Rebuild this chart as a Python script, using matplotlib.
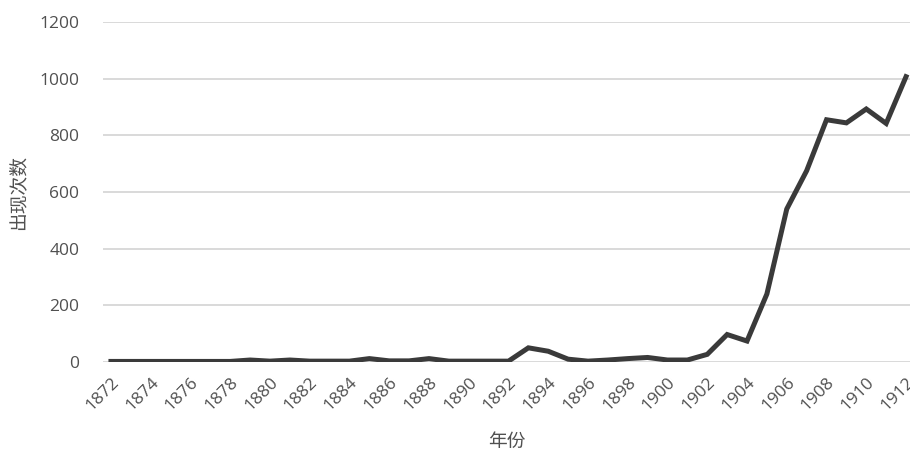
import matplotlib
matplotlib.use("Agg")
import matplotlib.pyplot as plt

plt.rcParams['font.family'] = ['Noto Sans CJK SC', 'DejaVu Sans']

years = list(range(1872, 1913))
counts = [2, 2, 2, 2, 2, 2, 2, 7, 3, 7, 3, 3, 3, 12, 4, 4, 12, 3, 3, 3,
          3, 50, 38, 10, 3, 7, 12, 16, 7, 7, 27, 97, 74, 240, 540, 675, 855, 844,
          893, 842, 1007]
xticks = list(range(1872, 1913, 2))
yticks = [0, 200, 400, 600, 800, 1000, 1200]

fig = plt.figure(figsize=(9.1, 4.55), dpi=100)
ax = fig.add_axes([103 / 910, 1 - 362 / 455, 807 / 910, 340 / 455])

ax.plot(years, counts, color='#3a3a3a', lw=3.6, solid_joinstyle='miter', zorder=3)

ax.set_xlim(1871.6, 1912.2)
ax.set_ylim(0, 1200)
ax.set_yticks(yticks)
ax.set_xticks(xticks)
ax.set_yticklabels([str(y) for y in yticks], family=['Open Sans', 'DejaVu Sans'])
ax.set_xticklabels([str(x) for x in xticks], rotation=45, ha='right', va='top',
                   rotation_mode='anchor', family=['Open Sans', 'DejaVu Sans'])
ax.grid(axis='y', color='#d9d9d9', lw=1.4)
ax.set_axisbelow(True)
for s in ax.spines.values():
    s.set_visible(False)
ax.tick_params(axis='both', length=0, labelsize=12.5, labelcolor='#505050')
ax.tick_params(axis='y', pad=17)
ax.tick_params(axis='x', pad=9)

ax.set_xlabel('年份', fontsize=13.5, color='#505050', labelpad=12)
ax.set_ylabel('出现次数', fontsize=13.5, color='#505050', labelpad=8)

fig.savefig('out.png', dpi=100)
